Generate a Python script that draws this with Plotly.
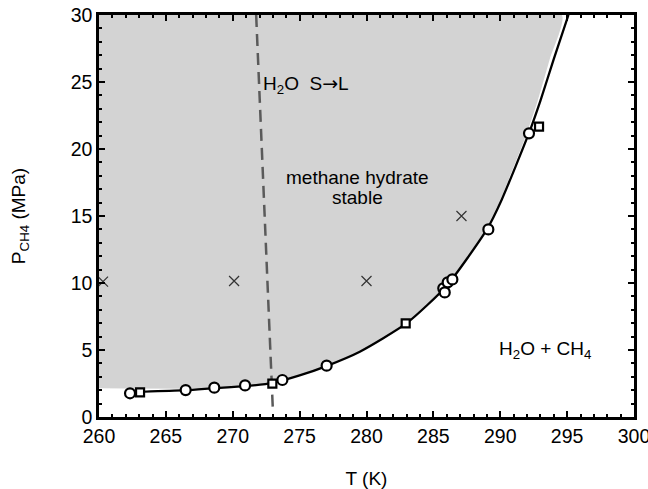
import plotly.graph_objects as go

# Equilibrium curve (T in K, P in MPa)
curve_T = [262.3, 263.1, 266.5, 268.6, 270.9, 273.0, 275.0, 277.0, 279.5, 283.0, 286.0, 289.0, 290.1, 292.15, 293.0, 294.0, 295.1]
curve_P = [1.85, 1.88, 2.0, 2.15, 2.3, 2.55, 3.1, 3.8, 4.87, 7.0, 9.8, 14.0, 16.2, 21.2, 23.6, 26.7, 30.0]

# Stability field boundary (grey region)
fill_T = [260.0, 269.5, 271.0, 273.0, 275.0, 277.0, 279.5, 283.0, 286.0, 288.9, 290.0, 292.0, 292.8, 293.7, 294.6, 260.0]
fill_P = [2.14, 2.14, 2.3, 2.55, 3.1, 3.8, 4.87, 7.0, 9.8, 14.0, 16.2, 21.2, 23.6, 26.7, 30.0, 30.0]

# Measured points
circ_T = [262.32, 266.48, 268.62, 270.92, 273.71, 277.02, 285.74, 285.85, 286.07, 286.42, 289.11, 292.15]
circ_P = [1.77, 2.01, 2.19, 2.36, 2.76, 3.83, 9.6, 9.3, 10.05, 10.27, 14.0, 21.17]
sq_T = [263.07, 272.96, 282.93, 292.9]
sq_P = [1.84, 2.49, 6.99, 21.67]
cross_T = [260.3, 270.1, 280.0, 287.1]
cross_P = [10.1, 10.15, 10.15, 15.0]

# Ice melting line
melt_T = [271.75, 273.0]
melt_P = [30.0, 0.5]

X_RANGE = [260, 300]
Y_RANGE = [0, 30]

FONT = "Liberation Sans, Arial, Helvetica, sans-serif"

fig = go.Figure()
fig.add_trace(go.Scatter(x=fill_T, y=fill_P, fill="toself", fillcolor="#d3d3d3",
                         line=dict(width=0, shape="spline", smoothing=0.5), mode="lines", hoverinfo="skip"))
fig.add_trace(go.Scatter(x=melt_T, y=melt_P, mode="lines",
                         line=dict(color="#5a5a5a", width=2.5, dash="12px,7px")))
fig.add_trace(go.Scatter(x=curve_T, y=curve_P, mode="lines",
                         line=dict(color="black", width=2.3, shape="spline", smoothing=0.6)))
fig.add_trace(go.Scatter(x=cross_T, y=cross_P, mode="markers",
                         marker=dict(symbol="x-thin", size=10, line=dict(color="#333333", width=1.2))))
fig.add_trace(go.Scatter(x=circ_T, y=circ_P, mode="markers",
                         marker=dict(symbol="circle", size=10, color="white", line=dict(color="black", width=2.2))))
fig.add_trace(go.Scatter(x=sq_T, y=sq_P, mode="markers",
                         marker=dict(symbol="square", size=8, color="white", line=dict(color="black", width=2.2))))
# invisible trace to anchor the mirror (top/right) tick axes
fig.add_trace(go.Scatter(x=X_RANGE, y=Y_RANGE, xaxis="x2", yaxis="y2", mode="markers",
                         marker=dict(opacity=0), hoverinfo="skip"))

tick_style = dict(ticks="inside", ticklen=6, tickwidth=2, tickcolor="black",
                  showgrid=False, zeroline=False, automargin=False,
                  minor=dict(ticks="inside", ticklen=3, tickwidth=2, tickcolor="black", dtick=1, showgrid=False))

fig.update_layout(
    xaxis=dict(range=X_RANGE, dtick=5, tick0=260, showline=True, linecolor="black", linewidth=2.5,
               ticklabeloverflow="allow", tickfont=dict(family=FONT, size=19.5, color="black"),
               title=dict(text="T (K)", font=dict(family=FONT, size=19, color="black"), standoff=28),
               **tick_style),
    yaxis=dict(range=Y_RANGE, dtick=5, tick0=0, showline=True, linecolor="black", linewidth=2.5,
               ticklabeloverflow="allow", tickfont=dict(family=FONT, size=19.5, color="black"),
               title=dict(text="P<sub>CH4</sub> (MPa)", font=dict(family=FONT, size=19, color="black"), standoff=40),
               **tick_style),
    xaxis2=dict(range=X_RANGE, dtick=5, tick0=260, overlaying="x", side="top", anchor="y",
                showline=True, linecolor="black", linewidth=2.5, showticklabels=False, **tick_style),
    yaxis2=dict(range=Y_RANGE, dtick=5, tick0=0, overlaying="y", side="right", anchor="x",
                showline=True, linecolor="black", linewidth=2.5, showticklabels=False, **tick_style),
)

ARROW = "<span style=\"font-family:DejaVu Sans\">\u2192</span>"
fig.add_annotation(x=272.1, y=24.8, xanchor="left", yanchor="middle", showarrow=False,
                   text="H<sub>2</sub>O  S" + ARROW + "L", font=dict(family=FONT, size=19, color="black"))
fig.add_annotation(x=279.3, y=17.9, xanchor="center", yanchor="middle", showarrow=False,
                   text="methane hydrate", font=dict(family=FONT, size=19, color="black"))
fig.add_annotation(x=279.3, y=16.4, xanchor="center", yanchor="middle", showarrow=False,
                   text="stable", font=dict(family=FONT, size=19, color="black"))
fig.add_annotation(x=293.35, y=5.0, xanchor="center", yanchor="middle", showarrow=False,
                   text="H<sub>2</sub>O + CH<sub>4</sub>", font=dict(family=FONT, size=19, color="black"))

fig.update_layout(width=648, height=489, margin=dict(l=99, r=14, t=15, b=72, autoexpand=False),
                  plot_bgcolor="white", paper_bgcolor="white", showlegend=False)

fig.write_html("out.html")
